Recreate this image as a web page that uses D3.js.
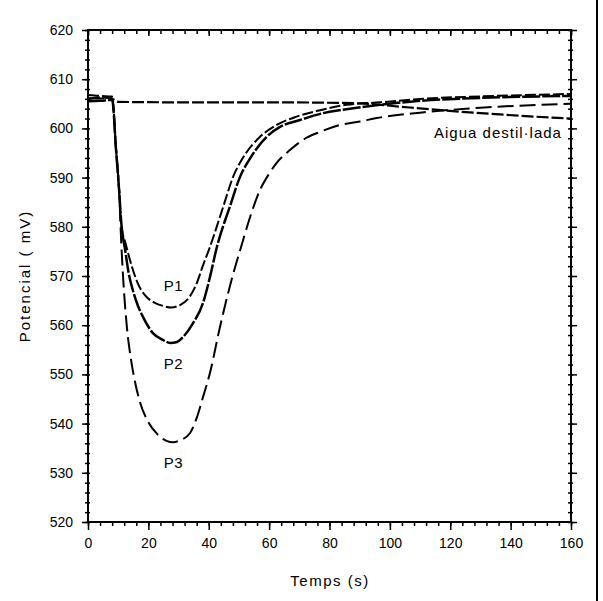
<!DOCTYPE html>
<html><head><meta charset="utf-8">
<script src="https://cdn.jsdelivr.net/npm/d3@7"></script>
<style>
html,body{margin:0;padding:0;background:#fff;}
svg{display:block;font-family:"Liberation Sans",Arial,sans-serif;}
</style></head><body>
<script>
// ---- data ----
const tP1 = [0,4,8,9.3,10.3,11,12.5,14.5,16.5,19,22,25,27.5,30.5,33.8,36,38,40.4,44.8,48.1,51.5,57,62.5,69.1,76.9,85.7,96.7,110,130,160];
const vP1 = [606.8,606.6,606.5,595.6,587.5,580.5,576.5,572,568.5,566,564.6,563.9,563.6,564.1,565.9,568.5,572,575.9,584.1,590.2,594.2,598.3,600.7,602.4,603.7,604.8,605.3,606,606.5,607];
const tP2 = [0,4,8,9.3,10.3,11,12.3,13.5,14.9,16.5,18.2,21.5,24.8,27.2,29.5,31.5,34.8,38.1,40.4,42.7,47,50.4,53.7,59.2,63.6,70.2,77.9,87.9,96.7,110,130,160];
const vP2 = [605.5,605.6,605.8,595.6,587.5,581,575.3,570.5,567,564,561.7,558.4,557,556.4,556.6,557.6,560.4,564.5,569.8,575.9,584.1,590.2,593.9,598.3,600.3,601.7,603.1,604.1,604.8,605.6,606.2,606.6];
const tP3 = [0,4,8,9.3,10.3,11,11.7,12.9,14.2,15.6,17.2,19.9,22.9,26,28.2,30.5,33.8,36.1,38.1,40.4,43.7,46.4,48,51,53.7,57,60,62.5,66.9,72.4,76.9,83.5,90.1,95.6,110,130,160];
const vP3 = [606.2,606.1,606.2,595.6,587.5,577,569,559.5,553.2,548.4,544.4,540.4,537.9,536.5,536.2,536.6,538.1,541.3,545.4,550.3,559.6,566.5,570.2,576.5,582,587.5,590.8,593,595.6,598.1,599.3,600.7,601.4,602.1,603.2,604.2,605];
const tW = [0,4,8,10,30,60,90,100,115,130,145,160];
const vW = [605.9,606.3,606,605.4,605.3,605.3,605.1,604.6,603.8,603.1,602.5,602];
const xTicks = [0,20,40,60,80,100,120,140,160];
const yTicks = [520,530,540,550,560,570,580,590,600,610,620];
const labels = [{text:"P1",t:28.3,v:567},{text:"P2",t:28.3,v:551},{text:"P3",t:28.3,v:531},{text:"Aigua destil·lada",t:157,v:598}];

// ---- chart ----
const W=603,H=601;
const svg=d3.select("body").append("svg").attr("width",W).attr("height",H);
const x=d3.scaleLinear().domain([0,160]).range([88,571]);
const y=d3.scaleLinear().domain([520,620]).range([522,30]);
const minorX=d3.range(0,160.01,4), minorY=d3.range(520,620.01,2);

function styleAxis(g){g.select(".domain").remove();g.selectAll("line").attr("stroke","#000").attr("stroke-width",1.5);}
// minor ticks
svg.append("g").attr("transform","translate(0,522)").call(d3.axisBottom(x).tickValues(minorX).tickSize(4).tickFormat("")).call(styleAxis);
svg.append("g").attr("transform","translate(0,30)").call(d3.axisTop(x).tickValues(minorX).tickSize(-4).tickFormat("")).call(styleAxis);
svg.append("g").attr("transform","translate(90,0)").call(d3.axisLeft(y).tickValues(minorY).tickSize(5).tickFormat("")).call(styleAxis);
svg.append("g").attr("transform","translate(573,0)").call(d3.axisLeft(y).tickValues(minorY).tickSize(5).tickFormat("")).call(styleAxis);
// major ticks & labels
const ax=svg.append("g").attr("transform","translate(0,522)").call(d3.axisBottom(x).tickValues(xTicks).tickSize(8).tickPadding(8).tickFormat(d3.format("d"))).call(styleAxis);
const ay=svg.append("g").attr("transform","translate(88,0)").call(d3.axisLeft(y).tickValues(yTicks).tickSize(6).tickPadding(9).tickFormat(d3.format("d"))).call(styleAxis);
svg.append("g").attr("transform","translate(0,30)").call(d3.axisTop(x).tickValues(xTicks).tickSize(-6).tickFormat("")).call(styleAxis);
svg.append("g").attr("transform","translate(571,0)").call(d3.axisRight(y).tickValues(yTicks).tickSize(6).tickFormat("")).call(styleAxis);
[ax,ay].forEach(g=>g.selectAll("text").attr("font-size",14).attr("font-family","Liberation Sans, Arial, sans-serif").attr("fill","#000"));
// frame
svg.append("rect").attr("x",88).attr("y",30).attr("width",571-88).attr("height",522-30).attr("fill","none").attr("stroke","#000").attr("stroke-width",2);

// series
const line=d3.line().x(d=>x(d[0])).y(d=>y(d[1])).curve(d3.curveMonotoneX);
const series=[
  {t:tW,v:vW,dash:"12,3",w:2.2},
  {t:tP3,v:vP3,dash:"16,6",w:2},
  {t:tP1,v:vP1,dash:"11,3",w:2},
  {t:tP2,v:vP2,dash:"18,2",w:2.5}
];
series.forEach(s=>{
  svg.append("path").datum(d3.zip(s.t,s.v)).attr("d",line).attr("fill","none").attr("stroke","#000").attr("stroke-width",s.w).attr("stroke-dasharray",s.dash);
});
// labels
labels.forEach(l=>{
  svg.append("text").attr("x",x(l.t)).attr("y",y(l.v)).attr("text-anchor",l.text.length>3?"end":"middle").attr("font-size",15).attr("letter-spacing",l.text.length>3?1:0.5).text(l.text);
});
// axis titles
svg.append("text").attr("x",330).attr("y",586).attr("text-anchor","middle").attr("font-size",15).attr("letter-spacing",1.5).text("Temps (s)");
svg.append("text").attr("transform","translate(30,276) rotate(-90)").attr("text-anchor","middle").attr("font-size",15).attr("letter-spacing",2).text("Potencial ( mV)");
// right edge line
svg.append("rect").attr("x",596).attr("y",0).attr("width",2).attr("height",H).attr("fill","#000");
</script>
</body></html>
